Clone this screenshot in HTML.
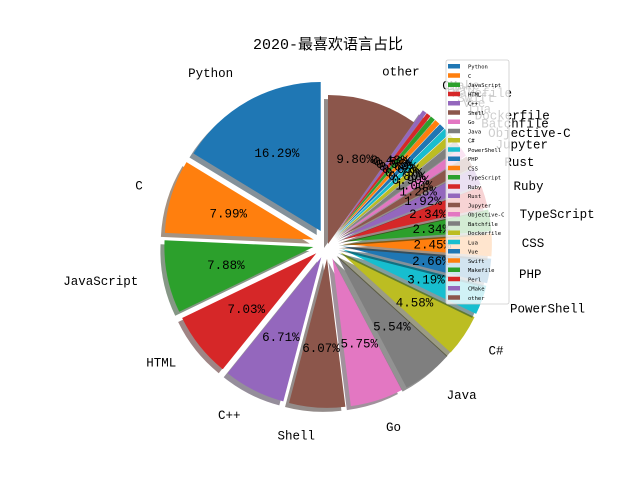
<!DOCTYPE html>
<html><head><meta charset="utf-8"><style>
body{margin:0;background:#fff;}
svg{display:block;font-family:"Liberation Mono","WenQuanYi Zen Hei","Noto Sans CJK SC",monospace;}
</style></head><body>
<svg id="chart" width="640" height="480" viewBox="0 0 640 480" xmlns="http://www.w3.org/2000/svg">
<rect width="640" height="480" fill="#fff"/>
<text x="328" y="49" text-anchor="middle" font-size="15" fill="#000">2020-最喜欢语言占比</text>
<g id="wedges"></g><g id="texts"></g><g id="legend"></g>
</svg>
<script>
const categories=["Python","C","JavaScript","HTML","C++","Shell","Go","Java","C#","PowerShell","PHP","CSS","TypeScript","Ruby","Rust","Jupyter","Objective-C","Batchfile","Dockerfile","Lua","Vue","Swift","Makefile","Perl","CMake","other"];
const values=[16.29,7.99,7.88,7.03,6.71,6.07,5.75,5.54,4.58,3.19,2.66,2.45,2.34,2.34,1.92,1.28,1.0,0.9,0.8,0.7,0.65,0.6,0.55,0.5,0.48,9.80];
const explodes=[0.1,0.1,0.1,0.1,0.1,0.1,0.1,0.1,0.1,0.1,0.1,0.1,0.1,0.1,0.1,0.1,0.1,0.1,0.1,0.1,0.1,0.1,0.1,0.1,0.1,0];
const palette=["#1f77b4","#ff7f0e","#2ca02c","#d62728","#9467bd","#8c564b","#e377c2","#7f7f7f","#bcbd22","#17becf"];
const NS="http://www.w3.org/2000/svg";
const cx=328,cy=244,R=149;
const total=values.reduce((a,b)=>a+b,0);
const wg=document.getElementById('wedges'),tg=document.getElementById('texts'),lg=document.getElementById('legend');
function pt(x,y,r,a){return [x+r*Math.cos(a),y-r*Math.sin(a)];}
function dark(h){const n=parseInt(h.slice(1),16);return `rgb(${((n>>16)&255)*0.3|0},${((n>>8)&255)*0.3|0},${(n&255)*0.3|0})`;}
let cum=0;
values.forEach((v,i)=>{
  const a1=(90+cum/total*360)*Math.PI/180;cum+=v;
  const a2=(90+cum/total*360)*Math.PI/180;const am=(a1+a2)/2;
  const [ox,oy]=pt(cx,cy,explodes[i]*R,am);
  const p1=pt(ox,oy,R,a1),p2=pt(ox,oy,R,a2);
  const large=(a2-a1)>Math.PI?1:0;
  const d=`M${ox},${oy}L${p1[0]},${p1[1]}A${R},${R} 0 ${large} 0 ${p2[0]},${p2[1]}Z`;
  const col=palette[i%10];
  const sh=document.createElementNS(NS,'path');
  sh.setAttribute('d',d);sh.setAttribute('fill',dark(col));sh.setAttribute('opacity','0.5');
  sh.setAttribute('transform','translate(-4,4)');
  
  
  wg.appendChild(sh);
  const w=document.createElementNS(NS,'path');
  w.setAttribute('d',d);w.setAttribute('fill',col);
  
  
  wg.appendChild(w);
  const lp=pt(ox,oy,1.2*R,am);
  const t=document.createElementNS(NS,'text');
  t.setAttribute('x',lp[0]);t.setAttribute('y',lp[1]+2);t.setAttribute('font-size','12.5');
  t.setAttribute('text-anchor',Math.cos(am)<0?'end':'start');
  t.textContent=categories[i];
  
  
  tg.appendChild(t);
  const pp=pt(ox,oy,0.6*R,am);
  const q=document.createElementNS(NS,'text');
  q.setAttribute('x',pp[0]);q.setAttribute('y',pp[1]+4);q.setAttribute('font-size','12.5');
  q.setAttribute('text-anchor','middle');
  q.textContent=(v/total*100).toFixed(2)+'%';
  
  
  tg.appendChild(q);
});
const box=document.createElementNS(NS,'rect');
box.setAttribute('x',446);box.setAttribute('y',60);box.setAttribute('width',63);box.setAttribute('height',244);
box.setAttribute('rx',2);box.setAttribute('fill','rgba(255,255,255,0.8)');box.setAttribute('stroke','#ccc');box.setAttribute('stroke-width','0.8');


lg.appendChild(box);
categories.forEach((c,i)=>{
  const y=64+i*9.25;
  const r=document.createElementNS(NS,'rect');
  r.setAttribute('x',448);r.setAttribute('y',y);r.setAttribute('width',12);r.setAttribute('height',4.5);r.setAttribute('fill',palette[i%10]);
  
  
  lg.appendChild(r);
  const t=document.createElementNS(NS,'text');
  t.setAttribute('x',468);t.setAttribute('y',y+4.5);t.setAttribute('font-size','5.5');t.setAttribute('font-family','DejaVu Sans Mono,monospace');
  t.textContent=c;
  
  
  lg.appendChild(t);
});
</script>
</body></html>
